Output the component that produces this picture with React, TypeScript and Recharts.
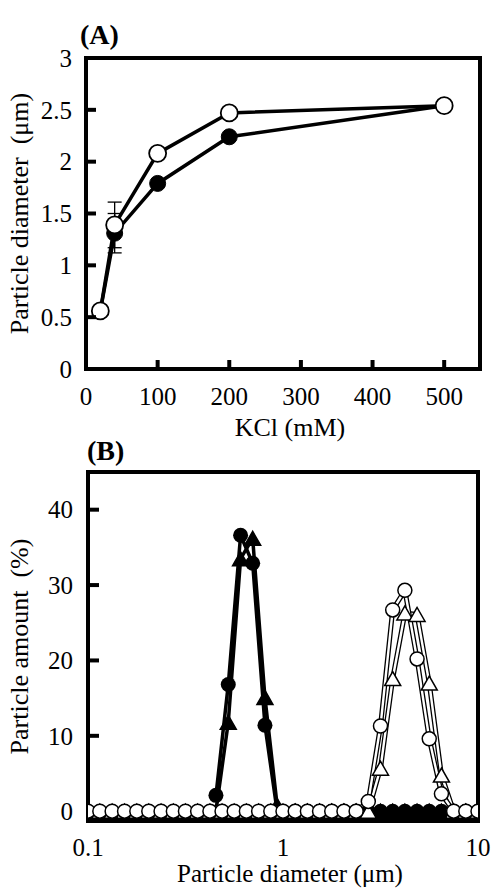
import React from 'react';
import { LineChart, Line, XAxis, YAxis, ReferenceArea, ErrorBar } from 'recharts';

// (A) mean particle diameter against KCl concentration
const kclConc = [20, 40, 100, 200, 500];
const diamOpen = [0.56, 1.39, 2.08, 2.47, 2.54];
const diamOpenErr = [0, 0.22, 0, 0, 0];
const diamFilled = [0.56, 1.31, 1.79, 2.24, 2.54];
const diamFilledErr = [0, 0.19, 0, 0, 0];
const kclTicks = [0, 100, 200, 300, 400, 500];
const diamTicks = [0, 0.5, 1, 1.5, 2, 2.5, 3];

// (B) size distributions, open symbols
const sizeBins = [
  0.1, 0.115, 0.133, 0.154, 0.178, 0.205, 0.237, 0.274, 0.316, 0.365, 0.422,
  0.487, 0.562, 0.649, 0.75, 0.866, 1.0, 1.155, 1.334, 1.54, 1.778, 2.054,
  2.371, 2.738, 3.162, 3.652, 4.217, 4.87, 5.623, 6.494, 7.499, 8.66, 10.0,
];
const openCircleAmount = [
  0, 0, 0, 0, 0, 0, 0, 0, 0, 0, 0, 0, 0, 0, 0, 0, 0, 0, 0, 0, 0, 0, 0,
  1.3, 11.3, 26.7, 29.3, 20.2, 9.6, 2.3, 0, 0, 0,
];
const openTriangleAmount = [
  0, 0, 0, 0, 0, 0, 0, 0, 0, 0, 0, 0, 0, 0, 0, 0, 0, 0, 0, 0, 0, 0, 0,
  0, 5.7, 17.6, 26.3, 26.1, 17.0, 4.8, 0, 0, 0,
];

// (B) filled symbols
const filledBins = [
  0.453, 0.524, 0.606, 0.699, 0.808, 0.933, 1.155, 1.334, 1.54, 1.778, 2.054,
  2.371, 2.738, 3.162, 3.652, 4.217, 4.87, 5.623, 6.494, 7.499, 8.66, 10.0,
];
const filledCircleAmount = [
  2.1, 16.8, 36.6, 32.9, 11.4, 0, 0, 0, 0, 0, 0, 0, 0, 0, 0, 0, 0, 0, 0, 0, 0, 0,
];
const filledTriangleAmount = [
  0, 11.8, 33.5, 36.2, 15.1, 0.8, 0, 0, 0, 0, 0, 0, 0, 0, 0, 0, 0, 0, 0, 0, 0, 0,
];
const sizeTicks = [0.1, 1, 10];
const amountTicks = [0, 10, 20, 30, 40];

const FONT = '"Liberation Serif", "Times New Roman", serif';

const dataAOpen = kclConc.map((c, i) => ({ kcl: c, diam: diamOpen[i], err: diamOpenErr[i] }));
const dataAFilled = kclConc.map((c, i) => ({ kcl: c, diam: diamFilled[i], err: diamFilledErr[i] }));
const dataOpenCircle = sizeBins.map((d, i) => ({ d, v: openCircleAmount[i] }));
const dataOpenTriangle = sizeBins.map((d, i) => ({ d, v: openTriangleAmount[i] }));
const dataFilledCircle = filledBins.map((d, i) => ({ d, v: filledCircleAmount[i] }));
const dataFilledTriangle = filledBins.map((d, i) => ({ d, v: filledTriangleAmount[i] }));

const fmt = (v: number) => String(v);

// y ticks: label outside, short mark pointing into the plot
const makeYTick = (margin: number, len: number, fs: number, skip: number[]) => (props: any) => {
  const { x, y, payload } = props;
  const ax = x + margin;
  return (
    <g>
      {!skip.includes(payload.value) && (
        <line x1={ax} x2={ax + len} y1={y} y2={y} stroke="#000" strokeWidth={4} />
      )}
      <text x={x} y={y} dy="0.35em" textAnchor="end" fontFamily={FONT} fontSize={fs} fill="#000">
        {fmt(payload.value)}
      </text>
    </g>
  );
};

const makeXTick = (margin: number, len: number, fs: number, base: number, skip: number[]) => (props: any) => {
  const { x, y, payload } = props;
  const ay = y - margin;
  return (
    <g>
      {len > 0 && !skip.includes(payload.value) && (
        <line x1={x} x2={x} y1={ay} y2={ay - len} stroke="#000" strokeWidth={4} />
      )}
      <text x={x} y={ay + base} textAnchor="middle" fontFamily={FONT} fontSize={fs} fill="#000">
        {fmt(payload.value)}
      </text>
    </g>
  );
};

const yTitle = (text: string, dx: number, fs: number) => (p: any) => {
  const vb = p.viewBox;
  const cx = vb.x + dx;
  const cy = vb.y + vb.height / 2;
  return (
    <text
      x={cx}
      y={cy}
      transform={`rotate(-90 ${cx} ${cy})`}
      textAnchor="middle"
      fontFamily={FONT}
      fontSize={fs}
      fill="#000"
      style={{ whiteSpace: 'pre' }}
    >
      {text}
    </text>
  );
};

const xTitle = (text: string, dx: number, dy: number, fs: number) => (p: any) => {
  const vb = p.viewBox;
  return (
    <text
      x={vb.x + vb.width / 2 + dx}
      y={vb.y + dy}
      textAnchor="middle"
      fontFamily={FONT}
      fontSize={fs}
      fill="#000"
    >
      {text}
    </text>
  );
};

// triangle centred on its bounding box, so that at zero it hides under the circles
const triangleDot = (fill: string) => (props: any) => {
  const { cx, cy, index } = props;
  if (cx == null || cy == null) return <g key={index} />;
  const w = 16;
  const h = 14;
  const pts = `${cx},${cy - h / 2} ${cx - w / 2},${cy + h / 2} ${cx + w / 2},${cy + h / 2}`;
  return <polygon key={index} points={pts} fill={fill} stroke="#000" strokeWidth={1.5} strokeLinejoin="miter" />;
};

const PanelA = () => (
  <LineChart width={497} height={450} margin={{ top: 58, right: 17, left: 0, bottom: 0 }}>
    <XAxis
      type="number"
      dataKey="kcl"
      domain={[0, 550]}
      ticks={kclTicks}
      allowDataOverflow
      axisLine={false}
      tickLine={false}
      tickSize={0}
      tickMargin={0}
      height={81}
      tick={makeXTick(0, 9, 25, 36, [0])}
      label={{ content: xTitle('KCl (mM)', 7, 67, 26) }}
    />
    <YAxis
      type="number"
      domain={[0, 3]}
      ticks={diamTicks}
      allowDataOverflow
      axisLine={false}
      tickLine={false}
      tickSize={0}
      tickMargin={14}
      width={86}
      tick={makeYTick(14, 10, 25, [0, 3])}
      label={{ content: yTitle('Particle diameter  (μm)', 28, 26) }}
    />
    <ReferenceArea x1={0} x2={550} y1={0} y2={3} fill="none" stroke="#000" strokeWidth={4} />
    <Line
      data={dataAFilled}
      dataKey="diam"
      stroke="#000"
      strokeWidth={3.5}
      dot={{ r: 8, fill: '#000', stroke: '#000', strokeWidth: 1 }}
      activeDot={false}
      isAnimationActive={false}
    >
      <ErrorBar dataKey="err" width={7} strokeWidth={1.3} stroke="#000" direction="y" />
    </Line>
    <Line
      data={dataAOpen}
      dataKey="diam"
      stroke="#000"
      strokeWidth={3.5}
      dot={{ r: 8.5, fill: '#fff', stroke: '#000', strokeWidth: 1.8 }}
      activeDot={false}
      isAnimationActive={false}
    >
      <ErrorBar dataKey="err" width={7} strokeWidth={1.3} stroke="#000" direction="y" />
    </Line>
  </LineChart>
);

const PanelB = () => (
  <LineChart width={497} height={439} margin={{ top: 22, right: 19, left: 0, bottom: 0 }}>
    <XAxis
      type="number"
      dataKey="d"
      scale="log"
      domain={[0.1, 10]}
      ticks={sizeTicks}
      allowDataOverflow
      axisLine={false}
      tickLine={false}
      tickSize={0}
      tickMargin={0}
      height={68}
      tick={makeXTick(0, 0, 25, 35, [])}
      label={{ content: xTitle('Particle diameter (μm)', 7, 61, 25) }}
    />
    <YAxis
      type="number"
      domain={[-1.3, 45]}
      ticks={amountTicks}
      allowDataOverflow
      axisLine={false}
      tickLine={false}
      tickSize={0}
      tickMargin={15}
      width={88}
      tick={makeYTick(15, 11, 25, [0])}
      label={{ content: yTitle('Particle amount  (%)', 28, 26) }}
    />
    <ReferenceArea x1={0.1} x2={10} y1={-1.3} y2={45} fill="none" stroke="#000" strokeWidth={4} />
    <Line
      data={dataFilledCircle}
      dataKey="v"
      stroke="#000"
      strokeWidth={3.5}
      dot={{ r: 7.5, fill: '#000', stroke: 'none' }}
      activeDot={false}
      isAnimationActive={false}
    />
    <Line
      data={dataFilledTriangle}
      dataKey="v"
      stroke="#000"
      strokeWidth={3.5}
      dot={triangleDot('#000')}
      activeDot={false}
      isAnimationActive={false}
    />
    <Line data={dataOpenTriangle} dataKey="v" stroke="#000" strokeWidth={5} dot={false} activeDot={false} isAnimationActive={false} />
    <Line data={dataOpenTriangle} dataKey="v" stroke="#fff" strokeWidth={2.4} dot={false} activeDot={false} isAnimationActive={false} />
    <Line
      data={dataOpenTriangle}
      dataKey="v"
      stroke="none"
      dot={triangleDot('#fff')}
      activeDot={false}
      isAnimationActive={false}
    />
    <Line data={dataOpenCircle} dataKey="v" stroke="#000" strokeWidth={5} dot={false} activeDot={false} isAnimationActive={false} />
    <Line data={dataOpenCircle} dataKey="v" stroke="#fff" strokeWidth={2.4} dot={false} activeDot={false} isAnimationActive={false} />
    <Line
      data={dataOpenCircle}
      dataKey="v"
      stroke="none"
      dot={{ r: 7, fill: '#fff', stroke: '#000', strokeWidth: 1.5 }}
      activeDot={false}
      isAnimationActive={false}
    />
  </LineChart>
);

const panelLetter: React.CSSProperties = {
  position: 'absolute',
  fontFamily: FONT,
  fontWeight: 'bold',
  fontSize: 28,
  lineHeight: 1,
  color: '#000',
};

export default function App() {
  return (
    <div style={{ position: 'absolute', left: 0, top: 0, width: 497, height: 889, background: '#fff', overflow: 'hidden' }}>
      <PanelA />
      <PanelB />
      <div style={{ ...panelLetter, left: 80, top: 21 }}>(A)</div>
      <div style={{ ...panelLetter, left: 87, top: 437 }}>(B)</div>
    </div>
  );
}
